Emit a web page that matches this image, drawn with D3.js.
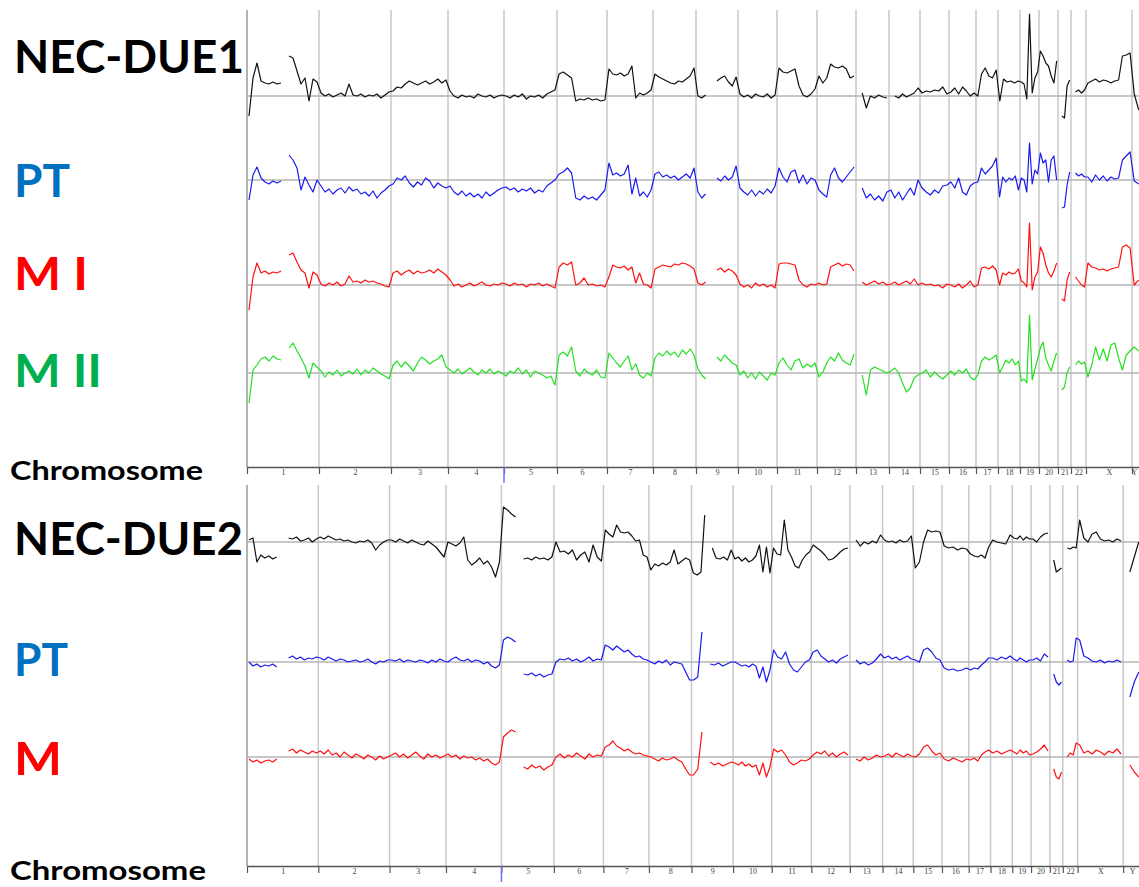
<!DOCTYPE html>
<html><head><meta charset="utf-8">
<script src="https://cdn.jsdelivr.net/npm/d3@7"></script>
<style>body{margin:0;background:#fff;overflow:hidden}</style>
</head><body><svg id="c" width="1139" height="887"></svg>
<script>
// ---------- DATA ----------
const chromosomes = ["1","2","3","4","5","6","7","8","9","10","11","12","13","14","15","16","17","18","19","20","21","22","X","Y"];
// relative chromosome sizes (probe-density units as drawn)
const chromSizes = [72,72,57,56,53,50,46,43,42,39,40,39,33,31,29,27,22,22,19,19,13,15,46,18];

// log-ratio values per chromosome (units ~ 1/100 log2), "_" = no data
const due1 = [
 "-20 18 33 15 13 12 14 12 13 _ 40 38 25 12 18 -5 17 14",
 "3 0 2 -1 1 3 0 12 1 0 2 -1 1 0 2 -2 1 4",
 "5 9 8 12 15 13 11 13 15 12 14 17 13 16",
 "5 0 -2 1 -1 0 -2 2 0 -1 1 -2 0 1",
 "0 -2 1 -1 2 -3 0 -1 1 -2 2 4 6",
 "22 24 21 18 -5 -3 -4 -2 -4 -3 -5 -4",
 "27 22 21 23 20 22 30 -2 3 1 3 6",
 "22 19 17 15 13 12 15 14 17 20 28",
 "0 -2 1 _ _ 15 18 20 14 10 19",
 "2 -1 1 -2 2 0 -1 2 -2 1",
 "28 24 23 25 27 10 1 -1 2 7",
 "20 13 18 32 29 28 30 27 18 20",
 "_ 3 -12 0 -2 1 -1 -2",
 "_ 0 -2 2 -1 1 3 8",
 "3 5 4 6 5 9 2",
 "4 8 2 9 5 0 3",
 "0 22 28 20 18 26",
 "-5 17 14 15 13 15",
 "14 12 -3 82 3 18 24",
 "45 40 33 30 20 13 35",
 "_ -20 -22 10 16",
 "_ 4 6 3 6",
 "13 15 17 14 16 15 13 15 16 40 41 43",
 "2 -14 _ _"
];
const due1PT = [
 "-20 5 13 2 -2 -4 -1 -3 -1 _ 25 20 12 -10 3 -5 -12 0",
 "-6 -12 -9 -14 -10 -8 -13 -7 -11 -9 -14 -12 -16 -11 -18 -13 -10 -6",
 "-4 2 0 4 -3 -7 -2 -5 2 -1 -8 -3 -6 -8",
 "-6 -12 -15 -11 -16 -13 -17 -14 -18 -12 -16 -13 -10 -8",
 "-7 -10 -8 -12 -9 -11 -8 -13 -10 -12 -6 -3 0",
 "6 8 12 7 -18 -20 -16 -19 -17 -20 -15 -10",
 "17 5 7 4 6 15 -14 2 -16 -12 -17 -10",
 "6 8 3 5 2 4 0 3 6 2 12",
 "-12 -18 -14 _ _ 2 -1 4 0 3 14",
 "-8 -12 -15 -10 -16 -11 -14 -9 -13 -6",
 "12 3 -2 8 10 -3 5 -4 2 0",
 "-10 -14 -17 5 12 2 -2 3 8 13",
 "_ -8 -18 -14 -20 -16 -21 -12",
 "-10 -18 -12 -20 -14 -8 -15 0",
 "-8 -12 -15 -10 -13 -6 -5",
 "-2 -8 2 -12 -15 -6 -3",
 "-2 12 6 10 14 22",
 "-17 3 -2 2 0 4 -10",
 "2 0 -12 37 -4 10 6",
 "27 17 20 -2 20 24 0",
 "_ -28 -27 -5 8",
 "_ 7 4 6 3",
 "3 -2 5 0 4 -1 3 1 2 20 24 28",
 "-1 -4 _ _"
];
const due1M1 = [
 "-25 8 22 12 14 11 13 12 14 _ 30 32 23 15 12 -3 13 10",
 "1 -1 2 0 3 -1 1 9 3 4 2 5 3 4 2 1 -1 -2",
 "12 14 10 13 15 11 14 12 13 15 12 16 13 10",
 "5 -1 1 -2 0 2 -1 1 3 0 -1 1 0 2",
 "1 -1 2 0 1 -2 1 0 2 -1 1 -1 -3",
 "18 22 20 23 0 2 7 0 1 -1 0 -2",
 "8 20 18 17 19 15 18 2 12 1 0 -3",
 "16 18 20 19 18 21 20 22 21 19 16",
 "2 0 3 _ _ 15 17 13 16 14 10",
 "1 -2 0 -3 2 -1 1 -2 0 -3",
 "21 22 22 21 20 5 0 -2 1 0",
 "2 0 1 18 20 22 19 21 20 14",
 "_ 3 0 2 4 1 3 0",
 "1 3 0 2 4 1 6 0",
 "2 0 1 -1 0 -3 1",
 "0 -2 1 -3 0 4 -2",
 "0 17 18 16 19 15",
 "0 12 10 13 11 12 16",
 "4 2 -2 62 -5 8 13",
 "38 32 20 12 8 14 22",
 "_ -14 -16 5 13",
 "_ 8 4 0 -2",
 "22 18 17 15 16 14 16 17 18 38 40 37",
 "0 5 _ _"
];
const due1M2 = [
 "-30 3 8 14 16 12 17 14 13 _ 25 30 22 15 7 -5 10 6",
 "2 -4 1 -2 3 -3 0 2 -1 4 -2 3 0 5 2 -1 -3 -6",
 "8 12 6 11 7 2 10 16 13 9 12 14 18 6",
 "3 0 4 -1 2 5 1 -2 3 0 4 -1 2 0",
 "-3 2 0 5 -1 3 -4 2 0 -2 -5 -3 -12",
 "18 21 17 26 2 -3 4 0 -2 3 -4 -5",
 "20 15 10 6 12 17 3 9 -2 -5 0 -3",
 "15 20 17 22 18 21 16 23 19 24 18",
 "4 -2 -6 _ _ 16 12 18 14 10 8",
 "-2 2 -5 0 -6 1 -3 -7 0 -2",
 "10 15 8 3 12 14 5 9 6 10",
 "-4 1 10 16 12 20 13 10 8 19",
 "_ -2 -22 3 6 4 2 0",
 "2 5 0 -10 -19 -15 -5 -2",
 "0 3 -4 1 -3 -6 -2",
 "2 -2 3 0 4 -4 -7",
 "-2 12 16 13 15 18",
 "0 6 13 10 14 8 12",
 "-8 -6 -10 58 -7 4 14",
 "25 31 15 8 2 12 20",
 "_ -17 -14 0 6",
 "_ 8 12 9 11",
 "-4 8 26 13 24 12 28 30 15 3 18 22",
 "26 22 _ _"
];
const due2 = [
 "2 4 -20 -13 -16 -14 -17 -15 _ _ 4 3 5 1 2 4 0 3",
 "5 3 6 4 2 3 1 2 0 -1 1 0 2 -1 -8 -3 0 2",
 "2 0 3 1 -1 2 0 -2 -3 1 -2 -5 -10 -15",
 "0 -2 -4 -1 5 -18 -23 -20 -16 -22 -19 -25 -35 -20",
 "35 32 28 25 _ -17 -16 -18 -15 -17 -16 -18 -15",
 "0 -10 -9 -12 -8 -18 -13 -10 -20 -3 -15 -19",
 "12 8 5 17 10 9 10 6 1 2 -13 -15",
 "-28 -22 -24 -21 -23 -20 -8 -22 -19 -16 -18",
 "-31 -33 -30 27 _ -6 -16 -17 -15 -18 -8",
 "-17 -15 -19 -16 -20 -18 -14 -3 -30 -5 -31",
 "-6 -12 -13 22 -8 -15 -24 -26 -18 -13 -10",
 "-3 -6 -9 -13 -18 -17 -14 -10 -7 -6",
 "_ 2 -4 0 -2 1 -1 7",
 "2 0 1 -1 2 0 1 6",
 "-26 -20 0 12 10 11 10",
 "-4 -6 -5 -8 -6 -7",
 "-12 -14 -15 -13 -16 -5",
 "2 0 -1 -2 7",
 "4 3 6 2 5 3",
 "3 0 5 8 9",
 "_ -18 -30 -28 -26",
 "_ -6 -7 -5 -6",
 "22 4 0 8 10 3 1 2 0 3 1",
 "_ -30 -15 0"
];
const due2PT = [
 "0 -4 -2 -5 -3 -4 -2 -5 _ _ 4 6 3 5 2 4 3 5",
 "4 2 5 3 1 3 2 0 1 2 0 1 3 0 -2 1 0 2",
 "2 1 3 0 2 1 0 2 1 -1 2 0 3 1",
 "0 3 5 2 1 3 0 2 1 -2 0 -4 -6 -3",
 "22 25 23 20 _ -12 -13 -11 -14 -12 -15 -13 -12",
 "0 3 2 4 1 3 0 2 5 1 3 2",
 "17 15 12 16 13 10 12 8 5 6 3 2",
 "0 -2 1 -1 2 -3 0 -1 -2 -10 -18",
 "-18 -15 30 _ -2 -3 -1 -4 -2 0",
 "0 -2 -4 -3 -5 -2 -4 -16 -5 -20 -8",
 "12 5 3 10 -2 -8 -10 -5 0 2",
 "10 12 6 3 0 2 -1 3 5 7",
 "_ 2 -2 0 -3 -1 3 8",
 "4 6 3 5 2 4 6 3",
 "2 0 12 14 10 4 2",
 "-6 -8 -7 -9 -8 -6",
 "-8 -6 -7 -3 0 4",
 "4 2 5 3 6",
 "3 1 4 2 0 2",
 "2 4 1 8 5",
 "_ -12 -20 -23 -20",
 "_ 2 0 1 24",
 "22 6 4 1 0 2 -1 1 0 2 0",
 "_ -35 -20 -10"
];
const due2M = [
 "-2 -5 -3 -6 -4 -3 -5 -2 _ _ 6 8 4 7 5 3 6 4",
 "6 3 7 2 4 0 5 2 -1 3 1 -2 2 0 -3 1 -2 0",
 "2 4 0 3 -1 2 5 1 -2 3 0 2 -1 1",
 "3 0 2 -2 1 -1 0 -3 -1 -4 -2 -6 -8 -5",
 "20 24 27 25 _ -10 -12 -8 -11 -9 -13 -10 -8",
 "0 3 -1 2 0 4 1 -2 3 0 2 1",
 "10 12 16 11 9 6 8 5 3 4 2 1",
 "0 -2 -4 -1 -3 -2 0 -3 -5 -12 -18",
 "-18 -12 25 _ -5 -8 -6 -9 -7 -5",
 "-6 -8 -5 -9 -7 -10 -8 -18 -6 -20 -10",
 "8 5 7 2 -5 -8 -6 -3 -4 -2",
 "2 5 3 6 1 4 0 3 5 2",
 "_ -2 -4 0 -3 -1 2 0",
 "1 3 0 4 2 0 3 1",
 "0 3 10 12 6 2 4",
 "-2 -4 -1 -3 -5 -2",
 "-3 -1 -4 2 5 7",
 "4 6 3 5 7",
 "5 3 7 4 6 2",
 "3 5 8 12 6",
 "_ -12 -20 -22 -15",
 "_ 0 4 2 14",
 "12 4 6 3 7 5 2 6 4 8 3",
 "_ -8 -15 -20"
];

// ---------- LAYOUT ----------
const starts = [];
let acc = 0;
chromSizes.forEach(s => { starts.push(acc); acc += s; });
const total = acc;
const bounds = starts.slice(0, chromosomes.length - 1).map((s, i) => s + chromSizes[i]);
const centers = starts.map((s, i) => s + chromSizes[i] / 2);

function parseTrack(arr) {
  const pts = [];
  arr.forEach((str, ci) => {
    const toks = str.trim().split(/\s+/);
    const n = toks.length;
    toks.forEach((t, i) => {
      pts.push({ pos: starts[ci] + (i + 0.5) * chromSizes[ci] / n, v: t === "_" ? null : +t });
    });
  });
  return pts;
}

const FONT = "Lato, 'Open Sans', sans-serif";
const panels = [
  { k: 1.0, top: 10, axisY: 467,
    title: { text: "NEC-DUE1", y: 73, w: 230, size: 46 },
    chromLabel: { y: 480, w: 193 },
    tracks: [
      { data: due1,   base: 96,  color: "#111111" },
      { data: due1PT, base: 180, color: "#1a1aee", label: { text: "PT",   fill: "#0070C0", y: 197, w: 56 } },
      { data: due1M1, base: 285, color: "#ff1010", label: { text: "M I",  fill: "#FF0000", y: 290, w: 74 } },
      { data: due1M2, base: 373, color: "#22e022", label: { text: "M II", fill: "#00B050", y: 387, w: 88 } }
    ] },
  { k: 0.99, top: 485, axisY: 866,
    title: { text: "NEC-DUE2", y: 555, w: 229, size: 46 },
    chromLabel: { y: 880, w: 196 },
    tracks: [
      { data: due2,   base: 542, color: "#111111" },
      { data: due2PT, base: 662, color: "#1a1aee", label: { text: "PT", fill: "#0070C0", y: 676, w: 54 } },
      { data: due2M,  base: 757, color: "#ff1010", label: { text: "M",  fill: "#FF0000", y: 775, w: 48 } }
    ] }
];

const svg = d3.select("#c");
svg.append("rect").attr("width", 1139).attr("height", 887).attr("fill", "#fff");

panels.forEach(p => {
  const x = d3.scaleLinear().domain([0, total]).range([247, 247 + total * p.k]);
  const g = svg.append("g");

  // vertical chromosome separators
  g.selectAll("line.vsep").data([0].concat(bounds)).enter().append("line")
    .attr("x1", d => x(d)).attr("x2", d => x(d))
    .attr("y1", p.top).attr("y2", p.axisY)
    .attr("stroke", (d, i) => i === 0 ? "#9a9a9a" : "#c8c8c8")
    .attr("stroke-width", 1.5);

  // baselines
  p.tracks.forEach(t => {
    g.append("line").attr("x1", 247).attr("x2", 1139)
      .attr("y1", t.base).attr("y2", t.base)
      .attr("stroke", "#b4b4b4").attr("stroke-width", 1.5);
  });

  // profiles
  p.tracks.forEach(t => {
    const y = d3.scaleLinear().domain([-50, 50]).range([t.base + 50, t.base - 50]);
    const line = d3.line().defined(d => d.v !== null).x(d => x(d.pos)).y(d => y(d.v));
    g.append("path").datum(parseTrack(t.data))
      .attr("d", line).attr("fill", "none")
      .attr("stroke", t.color).attr("stroke-width", 1.2)
      .attr("stroke-linejoin", "round");
  });

  // axis with boundary ticks
  const ax = g.append("g").attr("transform", `translate(0,${p.axisY})`)
    .call(d3.axisBottom(x).tickValues([0].concat(bounds)).tickSize(7).tickSizeOuter(0).tickFormat(""));
  ax.select(".domain").attr("stroke", "#555").attr("stroke-width", 1.5);
  ax.selectAll(".tick line").attr("stroke", "#555").attr("stroke-width", 1.2);

  // chromosome labels (last label kept inside the visible page)
  const labelPos = centers.map(c => x.invert(Math.min(x(c), 1134)));
  const lab = g.append("g").attr("transform", `translate(0,${p.axisY})`)
    .call(d3.axisBottom(x).tickValues(labelPos).tickSize(0).tickPadding(2).tickFormat((d, i) => chromosomes[i]));
  lab.select(".domain").remove();
  lab.selectAll("text").attr("font-family", "'Liberation Serif', serif").attr("font-size", 8).attr("fill", "#444");

  // blue marker tick between 4 and 5
  g.append("line").attr("x1", x(bounds[3])).attr("x2", x(bounds[3]))
    .attr("y1", p.axisY).attr("y2", p.axisY + 16)
    .attr("stroke", "#7070ff").attr("stroke-width", 1.5);

  // title
  g.append("text").attr("x", 14).attr("y", p.title.y).text(p.title.text)
    .attr("font-family", FONT).attr("font-weight", 700).attr("font-size", p.title.size)
    .attr("fill", "#000").attr("textLength", p.title.w).attr("lengthAdjust", "spacingAndGlyphs");

  p.tracks.forEach(t => {
    if (!t.label) return;
    g.append("text").attr("x", 14).attr("y", t.label.y).text(t.label.text)
      .attr("font-family", FONT).attr("font-weight", 700).attr("font-size", 46)
      .attr("fill", t.label.fill).attr("textLength", t.label.w).attr("lengthAdjust", "spacingAndGlyphs");
  });

  g.append("text").attr("x", 10).attr("y", p.chromLabel.y).text("Chromosome")
    .attr("font-family", FONT).attr("font-weight", 700).attr("font-size", 27)
    .attr("fill", "#000").attr("textLength", p.chromLabel.w).attr("lengthAdjust", "spacingAndGlyphs");
});
</script></body></html>
